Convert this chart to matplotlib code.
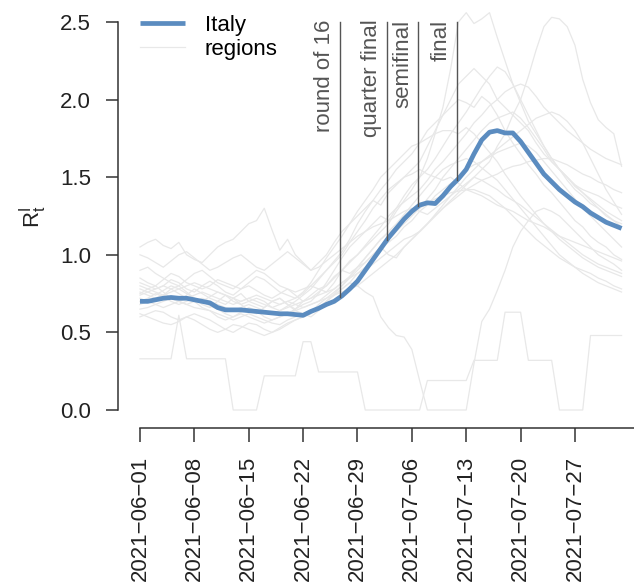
import numpy as np
import pandas as pd
import matplotlib
matplotlib.use("Agg")
import matplotlib.pyplot as plt
import matplotlib.dates as mdates

plt.rcParams['font.family'] = ['Liberation Sans', 'DejaVu Sans']

dates = pd.date_range("2021-06-01", periods=63, freq="D")

italy = [0.70, 0.70, 0.71, 0.72, 0.725, 0.72, 0.72, 0.71, 0.70, 0.69,
         0.66, 0.645, 0.645, 0.645, 0.64, 0.635, 0.63, 0.625, 0.62, 0.62,
         0.615, 0.61, 0.635, 0.655, 0.68, 0.70, 0.735, 0.78, 0.83, 0.90,
         0.97, 1.04, 1.11, 1.17, 1.23, 1.28, 1.32, 1.335, 1.33, 1.38,
         1.44, 1.49, 1.55, 1.65, 1.74, 1.79, 1.80, 1.785, 1.785, 1.73,
         1.66, 1.59, 1.52, 1.47, 1.42, 1.38, 1.34, 1.31, 1.27, 1.24,
         1.21, 1.19, 1.17]

# regional estimates (one list per region)
reg01 = [1.05, 1.08, 1.1, 1.06, 1.04, 1.08, 1.0, 0.97, 0.95, 1.0,
         1.05, 1.08, 1.1, 1.15, 1.2, 1.22, 1.3, 1.16, 1.03, 1.1,
         1.0, 0.95, 0.9, 0.95, 1.0, 1.08, 1.15, 1.2, 1.25, 1.3,
         1.35, 1.32, 1.4, 1.45, 1.5, 1.55, 1.6, 1.7, 1.8, 1.9,
         2.0, 2.1, 2.15, 2.2, 2.15, 2.1, 2.0, 1.95, 1.9, 1.85,
         1.8, 1.72, 1.65, 1.6, 1.55, 1.5, 1.45, 1.42, 1.4, 1.38,
         1.35, 1.32, 1.3]
reg02 = [0.75, 0.78, 0.8, 0.76, 0.72, 0.7, 0.74, 0.78, 0.75, 0.72,
         0.7, 0.68, 0.72, 0.75, 0.7, 0.68, 0.66, 0.7, 0.72, 0.68,
         0.65, 0.7, 0.74, 0.78, 0.8, 0.85, 0.9, 0.88, 0.92, 0.95,
         1.0, 1.05, 1.0, 0.98, 1.05, 1.1, 1.15, 1.2, 1.25, 1.3,
         1.35, 1.4, 1.45, 1.5, 1.55, 1.6, 1.7, 1.78, 1.9, 2.0,
         2.15, 2.32, 2.47, 2.53, 2.52, 2.47, 2.35, 2.13, 1.98, 1.87,
         1.82, 1.78, 1.57]
reg03 = [0.82, 0.8, 0.78, 0.8, 0.84, 0.82, 0.78, 0.76, 0.8, 0.83,
         0.8, 0.76, 0.74, 0.78, 0.8, 0.77, 0.74, 0.72, 0.75, 0.78,
         0.74, 0.7, 0.72, 0.76, 0.8, 0.86, 0.9, 0.95, 1.0, 1.05,
         1.1, 1.15, 1.2, 1.28, 1.35, 1.42, 1.5, 1.62, 1.78, 1.95,
         2.2, 2.5, 2.56, 2.49, 2.52, 2.56, 2.4, 2.25, 2.1, 1.98,
         1.86, 1.78, 1.7, 1.62, 1.55, 1.5, 1.44, 1.4, 1.35, 1.3,
         1.26, 1.22, 1.2]
reg04 = [0.7, 0.72, 0.75, 0.73, 0.7, 0.68, 0.7, 0.72, 0.7, 0.67,
         0.65, 0.62, 0.6, 0.63, 0.66, 0.64, 0.6, 0.58, 0.6, 0.62,
         0.65, 0.68, 0.7, 0.75, 0.82, 0.9, 0.98, 1.05, 1.1, 1.15,
         1.2, 1.25, 1.22, 1.3, 1.38, 1.45, 1.5, 1.55, 1.62, 1.7,
         1.78, 1.85, 1.92, 2.0, 2.08, 2.15, 2.21, 2.18, 2.1, 2.0,
         1.9, 1.8, 1.7, 1.62, 1.55, 1.48, 1.42, 1.38, 1.33, 1.3,
         1.25, 1.22, 1.18]
reg05 = [0.78, 0.76, 0.74, 0.77, 0.8, 0.78, 0.75, 0.72, 0.7, 0.73,
         0.76, 0.74, 0.7, 0.68, 0.7, 0.72, 0.7, 0.66, 0.64, 0.67,
         0.7, 0.74, 0.78, 0.84, 0.9, 0.96, 1.02, 1.1, 1.2, 1.28,
         1.35, 1.42, 1.48, 1.55, 1.6, 1.65, 1.72, 1.8, 1.85, 1.9,
         1.95, 2.0, 1.98, 1.95, 2.02, 1.98, 1.9, 1.8, 1.72, 1.65,
         1.58, 1.52, 1.45, 1.4, 1.34, 1.28, 1.22, 1.18, 1.12, 1.08,
         1.05, 1.0, 0.97]
reg06 = [0.65, 0.66, 0.68, 0.7, 0.72, 0.7, 0.68, 0.66, 0.65, 0.64,
         0.62, 0.6, 0.58, 0.6, 0.62, 0.6, 0.58, 0.56, 0.55, 0.58,
         0.6, 0.62, 0.64, 0.66, 0.7, 0.74, 0.78, 0.82, 0.88, 0.92,
         0.98, 1.05, 1.1, 1.15, 1.2, 1.25, 1.3, 1.36, 1.42, 1.5,
         1.56, 1.62, 1.68, 1.74, 1.8, 1.85, 1.88, 1.9, 1.92, 1.88,
         1.82, 1.75, 1.68, 1.6, 1.55, 1.5, 1.45, 1.4, 1.36, 1.32,
         1.28, 1.25, 1.22]
reg07 = [0.6, 0.62, 0.64, 0.63, 0.6, 0.58, 0.6, 0.62, 0.6, 0.58,
         0.55, 0.52, 0.5, 0.53, 0.56, 0.55, 0.52, 0.5, 0.52, 0.55,
         0.58, 0.6, 0.63, 0.68, 0.72, 0.76, 0.8, 0.85, 0.9, 0.95,
         1.0, 1.05, 1.08, 1.12, 1.18, 1.22, 1.28, 1.32, 1.38, 1.42,
         1.46, 1.5, 1.55, 1.58, 1.6, 1.63, 1.66, 1.68, 1.7, 1.72,
         1.7, 1.66, 1.6, 1.54, 1.48, 1.42, 1.36, 1.3, 1.25, 1.2,
         1.15, 1.1, 1.05]
reg08 = [0.85, 0.82, 0.8, 0.84, 0.88, 0.86, 0.82, 0.8, 0.78, 0.8,
         0.84, 0.82, 0.8, 0.78, 0.82, 0.86, 0.84, 0.8, 0.76, 0.74,
         0.72, 0.75, 0.8, 0.78, 0.76, 0.82, 0.9, 0.96, 1.0, 1.06,
         1.12, 1.18, 1.25, 1.3, 1.34, 1.38, 1.42, 1.48, 1.55, 1.6,
         1.66, 1.72, 1.78, 1.85, 1.9, 1.96, 2.0, 2.05, 2.08, 2.1,
         2.08, 2.02, 1.95, 1.9, 1.85, 1.8, 1.76, 1.72, 1.68, 1.65,
         1.62, 1.6, 1.58]
reg09 = [0.72, 0.7, 0.68, 0.66, 0.68, 0.7, 0.72, 0.7, 0.66, 0.64,
         0.6, 0.58, 0.6, 0.62, 0.6, 0.58, 0.56, 0.58, 0.6, 0.62,
         0.64, 0.66, 0.68, 0.7, 0.74, 0.78, 0.82, 0.86, 0.92, 0.98,
         1.04, 1.1, 1.14, 1.18, 1.22, 1.26, 1.3, 1.33, 1.36, 1.38,
         1.4, 1.41, 1.42, 1.42, 1.4, 1.38, 1.34, 1.3, 1.25, 1.2,
         1.15, 1.1, 1.06, 1.02, 0.98, 0.95, 0.92, 0.9, 0.88, 0.85,
         0.83, 0.8, 0.78]
reg10 = [0.9, 0.92, 0.88, 0.85, 0.82, 0.8, 0.84, 0.88, 0.9, 0.86,
         0.82, 0.8, 0.78, 0.82, 0.86, 0.9, 0.88, 0.84, 0.8, 0.78,
         0.76, 0.78, 0.8, 0.85, 0.9, 0.95, 1.0, 1.08, 1.15, 1.22,
         1.3, 1.36, 1.42, 1.46, 1.5, 1.52, 1.55, 1.52, 1.5, 1.48,
         1.5, 1.46, 1.42, 1.4, 1.38, 1.35, 1.32, 1.3, 1.28, 1.25,
         1.22, 1.2, 1.18, 1.15, 1.12, 1.1, 1.08, 1.06, 1.04, 1.02,
         1.0, 0.98, 0.96]
reg11 = [0.68, 0.7, 0.72, 0.74, 0.72, 0.7, 0.68, 0.7, 0.72, 0.7,
         0.68, 0.66, 0.64, 0.66, 0.68, 0.66, 0.64, 0.62, 0.64, 0.66,
         0.68, 0.7, 0.72, 0.74, 0.76, 0.78, 0.82, 0.85, 0.88, 0.9,
         0.94, 0.98, 1.02, 1.06, 1.1, 1.12, 1.15, 1.2, 1.25, 1.3,
         1.34, 1.38, 1.42, 1.45, 1.48, 1.5, 1.52, 1.55, 1.57, 1.58,
         1.6, 1.61, 1.62, 1.62, 1.6, 1.58, 1.55, 1.52, 1.5, 1.47,
         1.45, 1.42, 1.4]
reg12 = [0.8, 0.78, 0.76, 0.74, 0.76, 0.78, 0.8, 0.82, 0.8, 0.78,
         0.76, 0.74, 0.72, 0.7, 0.72, 0.74, 0.72, 0.7, 0.68, 0.7,
         0.72, 0.76, 0.82, 0.9, 0.98, 1.05, 1.12, 1.2, 1.28, 1.35,
         1.42, 1.5, 1.55, 1.6, 1.65, 1.7, 1.72, 1.75, 1.78, 1.8,
         1.8, 1.78, 1.82, 1.78, 1.72, 1.66, 1.6, 1.52, 1.45, 1.38,
         1.32, 1.26, 1.2, 1.15, 1.1, 1.06, 1.02, 0.98, 0.95, 0.92,
         0.9, 0.88, 0.86]
reg13 = [1.0, 0.98, 0.95, 0.92, 0.96, 1.0, 1.02, 0.98, 0.94, 0.9,
         0.92, 0.95, 0.98, 1.0, 0.96, 0.92, 0.9, 0.94, 0.98, 1.02,
         0.98, 0.94, 0.9, 0.92, 0.96, 1.0, 1.04, 1.08, 1.12, 1.15,
         1.18, 1.2, 1.22, 1.25, 1.28, 1.3, 1.28, 1.26, 1.3, 1.34,
         1.38, 1.42, 1.46, 1.5, 1.48, 1.45, 1.42, 1.38, 1.35, 1.32,
         1.28, 1.24, 1.2, 1.16, 1.12, 1.08, 1.04, 1.0, 0.97, 0.94,
         0.92, 0.9, 0.88]
reg14 = [0.76, 0.74, 0.72, 0.74, 0.78, 0.8, 0.76, 0.72, 0.68, 0.66,
         0.7, 0.74, 0.72, 0.68, 0.64, 0.62, 0.66, 0.7, 0.72, 0.68,
         0.64, 0.62, 0.6, 0.64, 0.7, 0.74, 0.78, 0.82, 0.8, 0.76,
         0.73, 0.6, 0.53, 0.48, 0.47, 0.39, 0.19, 0.0, 0.0, 0.0,
         0.0, 0.0, 0.0, 0.3, 0.57, 0.65, 0.77, 0.9, 1.05, 1.15,
         1.22, 1.28, 1.3, 1.28, 1.25, 1.2, 1.15, 1.1, 1.05, 1.0,
         0.97, 0.94, 0.9]
reg15 = [0.33, 0.33, 0.33, 0.33, 0.33, 0.61, 0.33, 0.33, 0.33, 0.33,
         0.33, 0.33, 0.0, 0.0, 0.0, 0.0, 0.22, 0.22, 0.22, 0.22,
         0.22, 0.44, 0.44, 0.245, 0.245, 0.245, 0.245, 0.245, 0.245, 0.0,
         0.0, 0.0, 0.0, 0.0, 0.0, 0.0, 0.0, 0.19, 0.19, 0.19,
         0.19, 0.19, 0.19, 0.32, 0.32, 0.32, 0.32, 0.63, 0.63, 0.63,
         0.32, 0.32, 0.32, 0.32, 0.0, 0.0, 0.0, 0.0, 0.48, 0.48,
         0.48, 0.48, 0.48]
reg16 = [0.74, 0.76, 0.78, 0.8, 0.78, 0.75, 0.72, 0.74, 0.76, 0.74,
         0.72, 0.7, 0.68, 0.7, 0.72, 0.7, 0.68, 0.66, 0.68, 0.7,
         0.68, 0.66, 0.68, 0.7, 0.72, 0.74, 0.76, 0.78, 0.8, 0.84,
         0.88, 0.92, 0.96, 1.0, 1.05, 1.1, 1.15, 1.2, 1.26, 1.32,
         1.38, 1.44, 1.5, 1.55, 1.6, 1.64, 1.68, 1.72, 1.76, 1.8,
         1.84, 1.88, 1.9, 1.92, 1.9, 1.86, 1.8, 1.72, 1.62, 1.52,
         1.42, 1.34, 1.26]
reg17 = [0.62, 0.6, 0.58, 0.56, 0.55, 0.57, 0.6, 0.58, 0.55, 0.52,
         0.5, 0.52, 0.55, 0.54, 0.52, 0.5, 0.48, 0.5, 0.53, 0.56,
         0.58, 0.6, 0.62, 0.66, 0.7, 0.75, 0.8, 0.86, 0.92, 0.98,
         1.04, 1.1, 1.15, 1.2, 1.26, 1.32, 1.38, 1.44, 1.5, 1.55,
         1.58, 1.6, 1.62, 1.6, 1.56, 1.52, 1.48, 1.42, 1.36, 1.3,
         1.24, 1.18, 1.12, 1.06, 1.0, 0.96, 0.92, 0.88, 0.85, 0.82,
         0.8, 0.78, 0.76]
regions = [reg01, reg02, reg03, reg04, reg05, reg06, reg07, reg08, reg09,
           reg10, reg11, reg12, reg13, reg14, reg15, reg16, reg17]

event_labels = ["round of 16", "quarter final", "semifinal", "final"]
event_dates = pd.to_datetime(["2021-06-27", "2021-07-03", "2021-07-07", "2021-07-12"])

tick_dates = pd.date_range("2021-06-01", "2021-07-27", freq="7D")

fig = plt.figure(figsize=(6.34, 5.85), dpi=100)
ax = fig.add_axes([118 / 634, 1 - 428 / 585, 516 / 634, 422 / 585])

for i, r in enumerate(regions):
    ax.plot(dates, r, color="#e8e8e8", lw=0.9, zorder=1,
            label="regions" if i == 0 else None)
ax.plot(dates, italy, color="#5b8cc0", lw=3.4, zorder=3, label="Italy",
        solid_capstyle="butt")

# event lines from the Italy curve up to the top
day0 = dates[0]
days = (dates - day0).days.values
for lab, d in zip(event_labels, event_dates):
    dd = (d - day0).days - 0.2
    yb = np.interp(dd, days, italy)
    xd = d - pd.Timedelta(days=0.2)
    ax.plot([xd, xd], [yb, 2.5], color="#555555", lw=1.0, zorder=4)
    ax.text(xd - pd.Timedelta(days=2.0), 2.515, lab, rotation=90, ha="center",
            va="top", fontsize=16, color="#555555")

x_lo = day0 - pd.Timedelta(days=2.83)
x_hi = day0 + pd.Timedelta(days=63.6)
ax.set_xlim(x_lo, x_hi)
ax.set_ylim(-0.116, 2.603)

ax.set_yticks([0.0, 0.5, 1.0, 1.5, 2.0, 2.5])
ax.set_yticklabels(["0.0", "0.5", "1.0", "1.5", "2.0", "2.5"])
ax.set_xticks(tick_dates)
ax.set_xticklabels([t.strftime("%Y-%m-%d").replace("-", "\u2212") for t in tick_dates],
                   rotation=90)

for s in ["top", "right"]:
    ax.spines[s].set_visible(False)
ax.spines["left"].set_bounds(0, 2.5)
ax.spines["bottom"].set_bounds(mdates.date2num(day0), mdates.date2num(x_hi))
for s in ["left", "bottom"]:
    ax.spines[s].set_linewidth(1.1)
    ax.spines[s].set_color("#333333")

ax.tick_params(axis="y", length=8.5, width=1.1, pad=11, labelsize=16,
               color="#333333", labelcolor="#222222")
ax.tick_params(axis="x", length=10, width=1.1, pad=10, labelsize=16,
               color="#333333", labelcolor="#222222")

ax.set_ylabel(r"$\mathregular{R_t^I}$", fontsize=16, color="#222222", labelpad=8)

handles, labels = ax.get_legend_handles_labels()
ax.legend(handles[::-1], labels[::-1], loc="upper left", bbox_to_anchor=(0.026, 1.0),
          frameon=False, fontsize=16, handlelength=2.0, handletextpad=0.9,
          labelspacing=0.15, borderaxespad=0)

fig.savefig("out.png", dpi=100)
